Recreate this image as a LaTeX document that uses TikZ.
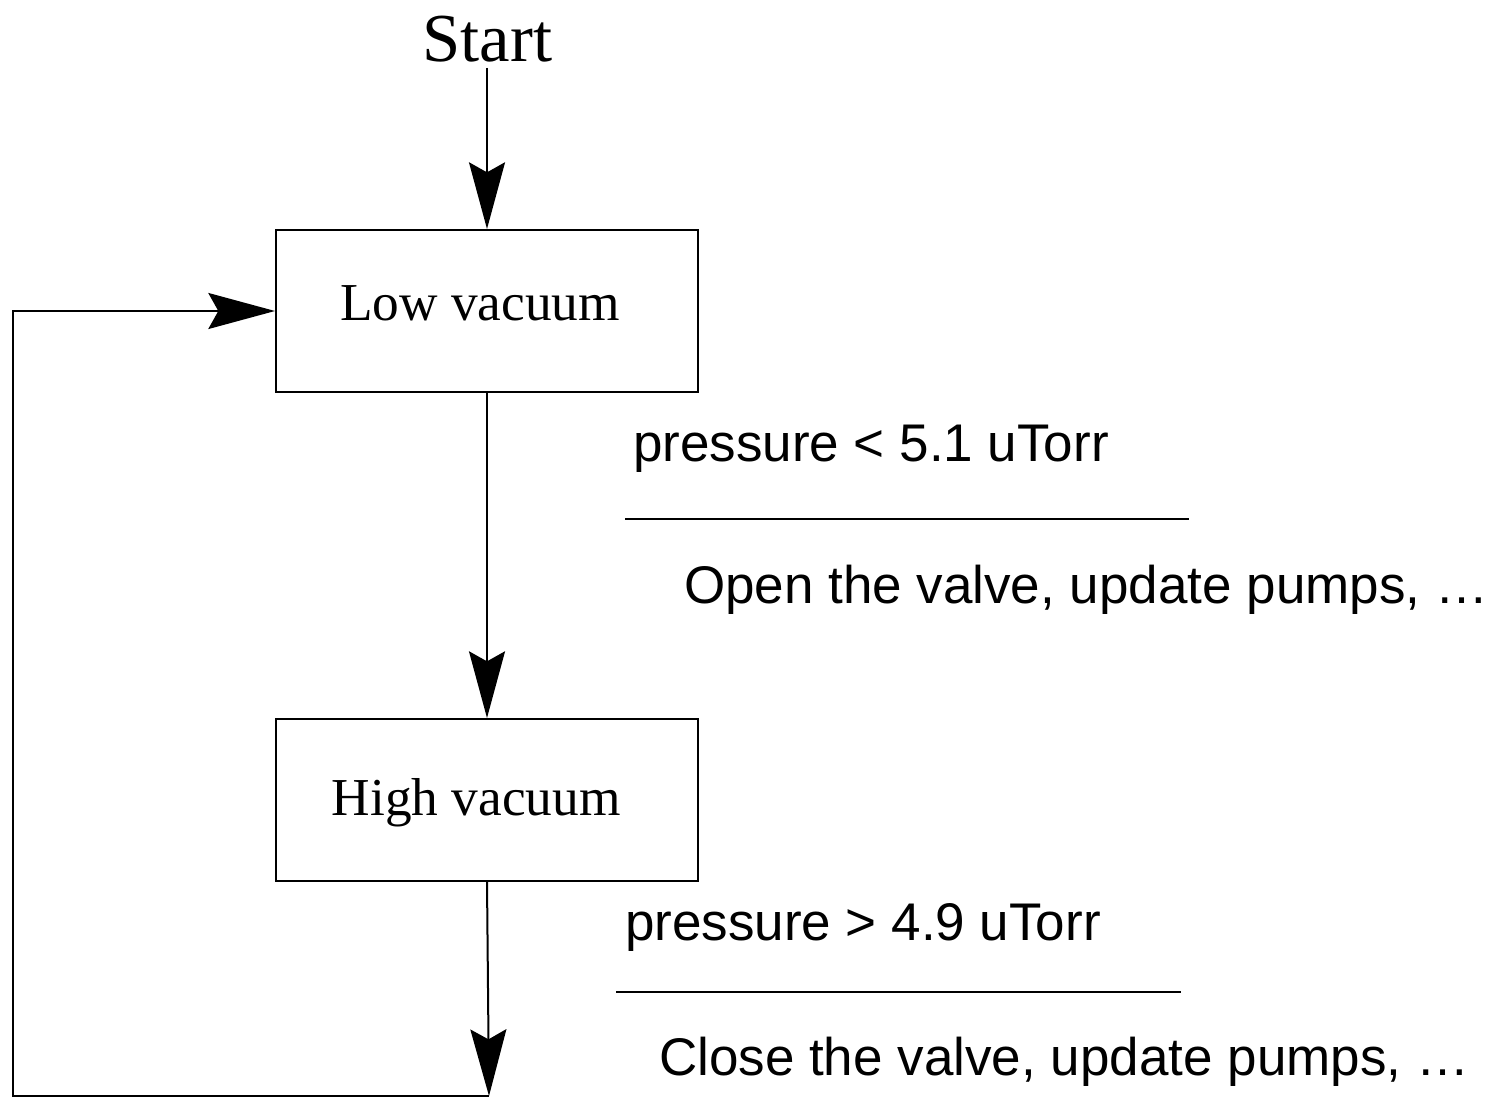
\documentclass[tikz,border=0pt]{standalone}
\usepackage{fontspec}
\setmainfont{Liberation Serif}
\newfontfamily\arial{Liberation Sans}
\usetikzlibrary{arrows.meta}
\begin{document}
\begin{tikzpicture}[x=0.75pt,y=-0.75pt,
  line width=1.5pt,
  bigtip/.style={-{Stealth[length=50pt,width=27pt,inset=7.5pt]}},
  statebox/.style={draw,rectangle,minimum width=316.5pt,minimum height=121.5pt,
    inner sep=0pt},
  statetext/.style={font=\fontsize{40}{48}\selectfont,inner sep=0pt},
  guard/.style={anchor=base west,inner sep=0pt,font=\arial\fontsize{39.75}{48}\selectfont},
  rule/.style={line width=1.8pt}]
\useasboundingbox (0,0) rectangle (1494,1098);
% start
\node[anchor=base,inner sep=0pt,font=\fontsize{51.5}{60}\selectfont] (start) at (487.5,62) {Start};
\coordinate (s0) at (487,68);
% states
\node[statebox,label={[statetext,xshift=-5.25pt,yshift=5.5pt]center:Low vacuum}] (low) at (487,311) {};
\node[statebox,label={[statetext,xshift=-8pt,yshift=-2pt]center:High vacuum}] (high) at (487,800) {};
% connectors
\draw[bigtip] (s0) -- (low.north);
\draw[bigtip] (low.south) -- (high.north);
\coordinate (bot) at (489,1096);
\coordinate (lc) at (13,1096);
\draw[bigtip] (high.south) -- (bot);
\draw[bigtip] (bot) -- (lc) |- (low.west);
% guards / actions
\node[guard] (g1) at (632,461) {pressure < 5.1 uTorr};
\draw[rule] (625,519) -- (1189,519);
\node[guard] (a1) at (683,603) {Open the valve, update pumps, …};
\node[guard] (g2) at (624,940) {pressure > 4.9 uTorr};
\draw[rule] (616,992) -- (1181,992);
\node[guard] (a2) at (658,1075) {Close the valve, update pumps, …};
\end{tikzpicture}
\end{document}
